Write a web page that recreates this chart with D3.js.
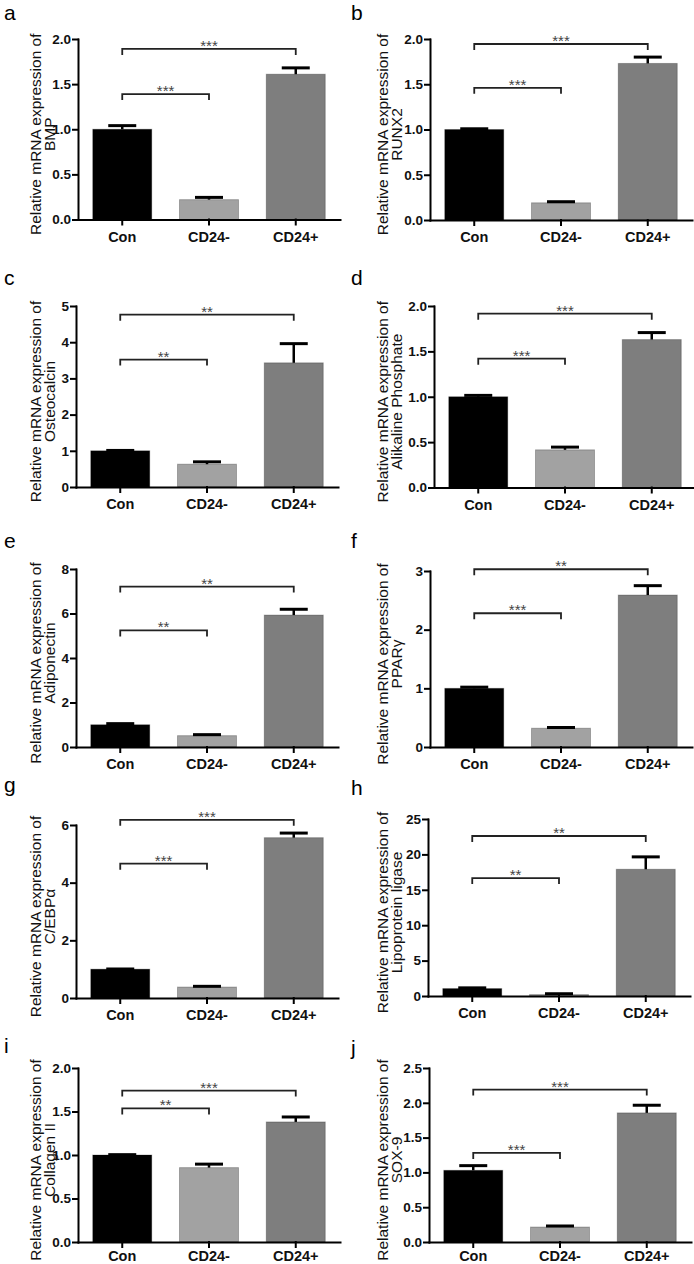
<!DOCTYPE html>
<html>
<head>
  <meta charset="utf-8">
  <title></title>
  <script src="https://cdn.jsdelivr.net/npm/d3@7"></script>
  <style>
    body { margin: 0; background: #fff; }
    svg { display: block; font-family: "Liberation Sans", Arial, sans-serif; }
    .letter { font-size: 21px; }
    .ylab { font-size: 15.5px; fill: #111; }
    .axis path, .axis line { stroke: #000; stroke-width: 2px; stroke-linecap: square; }
    .axis text { font-size: 13.5px; font-weight: bold; fill: #111; font-family: "Liberation Sans", Arial, sans-serif; }
    .xaxis text { font-size: 14.5px; }
    .bracket { fill: none; stroke: #222; stroke-width: 1.8px; }
    .stars { font-size: 15px; fill: #444; text-anchor: middle; }
    .err { stroke: #000; }
  </style>
</head>
<body>
<div id="chart"></div>
<script>
  // data
  var categories = ['Con', 'CD24-', 'CD24+'];
  var barColors = ['#000000', '#a2a2a2', '#7e7e7e'];
  var letters = ['a', 'b', 'c', 'd', 'e', 'f', 'g', 'h', 'i', 'j'];
  var genes = ['BMP', 'RUNX2', 'Osteocalcin', 'Alikaline Phosphate', 'Adiponectin',
               'PPAR\u03b3', 'C/EBP\u03b1', 'Lipoprotein ligase', 'Collagen II', 'SOX-9'];
  var means = [
    [1.00, 0.22, 1.61],
    [1.00, 0.19, 1.73],
    [1.00, 0.63, 3.43],
    [1.00, 0.415, 1.63],
    [1.00, 0.51, 5.93],
    [1.00, 0.32, 2.59],
    [1.00, 0.38, 5.56],
    [1.05, 0.2, 17.9],
    [1.00, 0.855, 1.38],
    [1.03, 0.215, 1.855]
  ];
  var errors = [
    [0.04, 0.025, 0.07],
    [0.008, 0.012, 0.07],
    [0.01, 0.065, 0.53],
    [0.015, 0.03, 0.077],
    [0.05, 0.045, 0.26],
    [0.02, 0.012, 0.16],
    [0.006, 0.025, 0.16],
    [0.1, 0.12, 1.75],
    [0.004, 0.04, 0.057],
    [0.067, 0.015, 0.11]
  ];
  var yTicks = [
    [0, 0.5, 1, 1.5, 2],
    [0, 0.5, 1, 1.5, 2],
    [0, 1, 2, 3, 4, 5],
    [0, 0.5, 1, 1.5, 2],
    [0, 2, 4, 6, 8],
    [0, 1, 2, 3],
    [0, 2, 4, 6],
    [0, 5, 10, 15, 20, 25],
    [0, 0.5, 1, 1.5, 2],
    [0, 0.5, 1, 1.5, 2, 2.5]
  ];
  // [Con vs CD24-, Con vs CD24+]
  var sigStars = [
    ['***', '***'], ['***', '***'], ['**', '**'], ['***', '***'], ['**', '**'],
    ['***', '**'], ['***', '***'], ['**', '**'], ['**', '***'], ['***', '***']
  ];
  var sigLevels = [
    [1.39, 1.89], [1.46, 1.945], [3.52, 4.76], [1.42, 1.915], [5.24, 7.21],
    [2.28, 3.03], [4.66, 6.18], [16.65, 22.6], [1.535, 1.74], [1.28, 2.19]
  ];

  // panel placement: origin x, y-axis x, top tick y, baseline y, letter baseline
  var layout = [
    [0, 78, 39, 219.5, 20], [347, 430, 39, 220, 20],
    [0, 76, 306, 487, 285], [347, 434, 306, 487.5, 285],
    [0, 76, 569, 747, 548], [347, 430, 571, 747, 548],
    [0, 76, 825, 998, 792], [347, 428, 819, 996, 795],
    [0, 78, 1068, 1242, 1053], [347, 429, 1068, 1242, 1055]
  ];

  var W = 694, H = 1264;
  var svg = d3.select('#chart').append('svg').attr('width', W).attr('height', H);

  genes.forEach(function (gene, p) {
    var L = layout[p];
    var ox = L[0], ax = L[1], top = L[2], base = L[3];
    var ticks = yTicks[p];
    var g = svg.append('g');

    var x = d3.scaleBand().domain(categories).range([ax, ax + 262])
      .paddingInner(0.32).paddingOuter(0.17);
    var y = d3.scaleLinear().domain([0, d3.max(ticks)]).range([base, top]);
    var fmt = ticks.some(function (t) { return t % 1; }) ? d3.format('.1f') : d3.format('d');

    g.append('text').attr('class', 'letter')
      .attr('x', ox + 4).attr('y', L[4]).text(letters[p]);

    // y label, two lines (x is the baseline after rotation)
    var cy = (top + base) / 2 + 5;
    [['Relative mRNA expression of', 40.5], [gene, 55]].forEach(function (l) {
      g.append('text').attr('class', 'ylab')
        .attr('transform', 'translate(' + (ox + l[1]) + ',' + cy + ') rotate(-90)')
        .attr('text-anchor', 'middle').text(l[0]);
    });

    var rows = categories.map(function (c, i) {
      return { cat: c, v: means[p][i], e: errors[p][i], color: barColors[i] };
    });

    g.selectAll('.bar').data(rows).enter().append('rect')
      .attr('class', 'bar')
      .attr('x', function (d) { return x(d.cat); })
      .attr('width', x.bandwidth())
      .attr('y', function (d) { return y(d.v); })
      .attr('height', function (d) { return base - y(d.v); })
      .attr('fill', function (d) { return d.color; })
      .attr('stroke', 'rgba(0,0,0,0.25)').attr('stroke-width', 1);

    var cx = function (d) { return x(d.cat) + x.bandwidth() / 2; };
    g.selectAll('.stem').data(rows).enter().append('line')
      .attr('class', 'err').attr('stroke-width', 2.5)
      .attr('x1', cx).attr('x2', cx)
      .attr('y1', function (d) { return y(d.v); })
      .attr('y2', function (d) { return y(d.v + d.e); });
    g.selectAll('.cap').data(rows).enter().append('line')
      .attr('class', 'err').attr('stroke-width', 3)
      .attr('x1', function (d) { return cx(d) - 14; })
      .attr('x2', function (d) { return cx(d) + 14; })
      .attr('y1', function (d) { return y(d.v + d.e); })
      .attr('y2', function (d) { return y(d.v + d.e); });

    // significance brackets
    var c0 = x(categories[0]) + x.bandwidth() / 2;
    [1, 2].forEach(function (j, k) {
      var cj = x(categories[j]) + x.bandwidth() / 2;
      var by = y(sigLevels[p][k]);
      g.append('path').attr('class', 'bracket')
        .attr('d', 'M' + c0 + ',' + (by + 6) + 'V' + by + 'H' + cj + 'V' + (by + 6));
      g.append('text').attr('class', 'stars')
        .attr('x', (c0 + cj) / 2).attr('y', by + 2).text(sigStars[p][k]);
    });

    g.append('g').attr('class', 'axis')
      .attr('transform', 'translate(' + ax + ',0)')
      .call(d3.axisLeft(y).tickValues(ticks).tickSize(5).tickSizeOuter(0)
        .tickPadding(2).tickFormat(fmt));

    g.append('g').attr('class', 'axis xaxis')
      .attr('transform', 'translate(0,' + base + ')')
      .call(d3.axisBottom(x).tickSize(5).tickSizeOuter(0).tickPadding(p >= 8 ? 4 : 7));
  });
</script>
</body>
</html>
